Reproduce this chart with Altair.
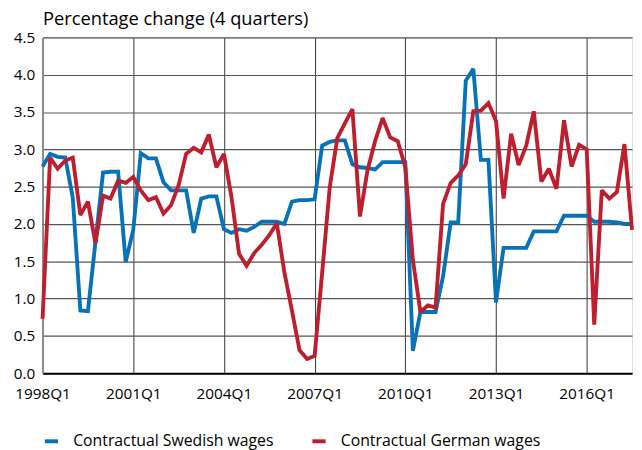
import altair as alt
import pandas as pd

years = list(range(1998, 2018))
quarters = [f"{y}Q{q}" for y in years for q in range(1, 5)][:79]

swedish = [2.77, 2.94, 2.90, 2.89, 2.35, 0.84, 0.83, 1.76, 2.69, 2.70,
           2.70, 1.49, 1.92, 2.95, 2.88, 2.88, 2.56, 2.45, 2.45, 2.45,
           1.88, 2.34, 2.37, 2.37, 1.93, 1.88, 1.93, 1.91, 1.96, 2.03,
           2.03, 2.03, 2.00, 2.30, 2.32, 2.32, 2.33, 3.05, 3.10, 3.12,
           3.12, 2.80, 2.76, 2.75, 2.73, 2.83, 2.83, 2.83, 2.83, 0.30,
           0.82, 0.82, 0.82, 1.30, 2.02, 2.02, 3.92, 4.08, 2.86, 2.86,
           0.95, 1.68, 1.68, 1.68, 1.68, 1.90, 1.90, 1.90, 1.90, 2.11,
           2.11, 2.11, 2.11, 2.03, 2.03, 2.03, 2.02, 2.00, 2.00]

german = [0.73, 2.89, 2.74, 2.85, 2.89, 2.12, 2.30, 1.74, 2.38, 2.34,
          2.58, 2.55, 2.63, 2.45, 2.32, 2.36, 2.14, 2.25, 2.52, 2.94,
          3.02, 2.96, 3.20, 2.76, 2.94, 2.36, 1.60, 1.44, 1.61, 1.72,
          1.85, 2.01, 1.35, 0.84, 0.31, 0.19, 0.23, 1.35, 2.49, 3.15,
          3.35, 3.54, 2.10, 2.72, 3.11, 3.42, 3.16, 3.11, 2.76, 1.52,
          0.82, 0.91, 0.88, 2.27, 2.55, 2.65, 2.80, 3.51, 3.52, 3.62,
          3.38, 2.34, 3.21, 2.79, 3.05, 3.51, 2.57, 2.74, 2.47, 3.39,
          2.77, 3.06, 3.00, 0.65, 2.45, 2.34, 2.43, 3.07, 1.92]

series_names = ["Contractual Swedish wages", "Contractual German wages"]
series_colors = ["#0872B9", "#BE1E2D"]
tick_labels = ["1998Q1", "2001Q1", "2004Q1", "2007Q1", "2010Q1", "2013Q1", "2016Q1"]
tick_positions = [quarters.index(t) for t in tick_labels]
y_ticks = [0.0, 0.5, 1.0, 1.5, 2.0, 2.5, 3.0, 3.5, 4.0, 4.5]
y_title = "Percentage change (4 quarters)"

rows = []
for name, vals in zip(series_names, [swedish, german]):
    for i, (q, v) in enumerate(zip(quarters, vals)):
        rows.append({"idx": i, "quarter": q, "value": v, "series": name})
df = pd.DataFrame(rows)

label_expr = "{" + ",".join(f"'{p}':'{t}'" for p, t in zip(tick_positions, tick_labels)) + "}[datum.value]"

FONT = "Open Sans"

chart = alt.Chart(df).mark_line(strokeWidth=3.9, strokeJoin="miter", strokeMiterLimit=2).encode(
    x=alt.X("idx:Q",
            scale=alt.Scale(domain=[0, len(quarters) - 1], nice=False, zero=False),
            axis=alt.Axis(values=tick_positions, labelExpr=label_expr, title=None,
                          grid=True, gridColor="#333333", gridWidth=1,
                          ticks=False, domainColor="#000000", domainWidth=2,
                          labelFont=FONT, labelFontSize=15.5, labelColor="#000000",
                          labelPadding=14, labelFlush=False, labelOverlap=False)),
    y=alt.Y("value:Q",
            scale=alt.Scale(domain=[0, 4.5], nice=False),
            axis=alt.Axis(values=y_ticks, format=".1f", title=y_title,
                          titleAngle=0, titleAlign="left", titleBaseline="alphabetic",
                          titleX=0, titleY=-13, titleFont=FONT, titleFontSize=18.5,
                          titleFontWeight="normal", titleColor="#000000",
                          grid=True, gridColor="#555555", gridWidth=1.2,
                          ticks=False, domainColor="#8a8a8a", domainWidth=1.6,
                          labelFont=FONT, labelFontSize=15.5, labelColor="#000000",
                          labelPadding=8)),
    color=alt.Color("series:N",
                    scale=alt.Scale(domain=series_names, range=series_colors),
                    legend=alt.Legend(title=None, orient="none", direction="horizontal",
                                      legendX=0, legendY=400, padding=0,
                                      symbolType="stroke", symbolSize=180,
                                      symbolStrokeWidth=4, labelOffset=13,
                                      columnPadding=30, labelLimit=400,
                                      labelFont=FONT, labelFontSize=16,
                                      labelColor="#000000")),
    order=alt.Order("idx:Q"),
).properties(
    width=597,
    height=340,
    autosize=alt.AutoSizeParams(type="none"),
    padding={"left": 35, "top": 27, "right": 2, "bottom": 78},
).configure_view(strokeWidth=0).configure(background="white")

chart.save("out.html", embed_options={"renderer": "svg", "actions": False})
